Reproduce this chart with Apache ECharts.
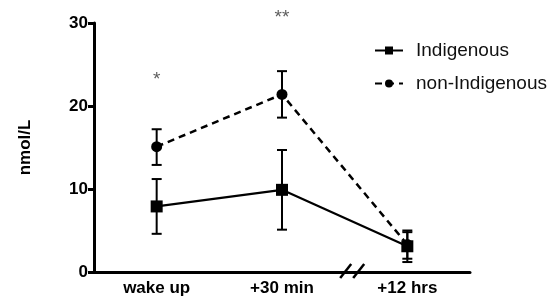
<!DOCTYPE html>
<html lang="en">
<head>
    <meta charset="UTF-8">
    <title>cortisol chart</title>
    <script src="https://cdn.jsdelivr.net/npm/echarts@6/dist/echarts.min.js"></script>
</head>
<body style="margin:0">
<div id="main" style="width: 556px;height:303px;"></div>
<script>
    const categories = ['wake up', '+30 min', '+12 hrs'];
    const indigMean = [7.9, 9.9, 3.1];
    const indigLow = [4.6, 5.1, 1.2];
    const indigHigh = [11.2, 14.7, 5.0];
    const nonMean = [15.1, 21.4, 3.3];
    const nonLow = [12.9, 18.6, 1.6];
    const nonHigh = [17.2, 24.2, 4.8];
    // significance marks: [category index, y value, text]
    const stars = [[0, 23.2, '*'], [1, 30.6, '**']];

    const font = 'Liberation Sans';
    const myChart = echarts.init(document.getElementById('main'));

    function errBars(low, high) {
        return categories.map(function (c, i) {
            return [i, low[i], high[i]];
        });
    }

    function renderErr(params, api) {
        const lo = api.coord([api.value(0), api.value(1)]);
        const hi = api.coord([api.value(0), api.value(2)]);
        const w = 5;
        const st = {stroke: '#000', lineWidth: 2};
        return {
            type: 'group',
            children: [
                {type: 'line', shape: {x1: lo[0], y1: lo[1], x2: hi[0], y2: hi[1]}, style: st},
                {type: 'line', shape: {x1: lo[0] - w, y1: lo[1], x2: lo[0] + w, y2: lo[1]}, style: st},
                {type: 'line', shape: {x1: hi[0] - w, y1: hi[1], x2: hi[0] + w, y2: hi[1]}, style: st}
            ]
        };
    }

    const option = {
        animation: false,
        grid: {left: 94, right: 86, top: 23, bottom: 31},
        legend: {
            orient: 'vertical',
            left: 369,
            top: 36,
            itemGap: 14,
            itemWidth: 28,
            itemHeight: 10,
            textStyle: {fontFamily: font, fontSize: 19, color: '#111', padding: [0, 0, 0, 8]},
            data: ['Indigenous', 'non-Indigenous']
        },
        xAxis: {
            type: 'category',
            data: categories,
            axisLine: {lineStyle: {color: '#000', width: 3}},
            axisTick: {alignWithLabel: true, length: 6, lineStyle: {width: 3, color: '#000'}},
            axisLabel: {fontFamily: font, fontWeight: 'bold', fontSize: 17, color: '#000', margin: 8}
        },
        yAxis: {
            type: 'value',
            min: 0,
            max: 30,
            interval: 10,
            name: 'nmol/L',
            nameLocation: 'middle',
            nameGap: 60,
            nameTextStyle: {fontFamily: font, fontWeight: 'bold', fontSize: 17, color: '#000'},
            splitLine: {show: false},
            axisLine: {show: true, lineStyle: {color: '#000', width: 3}},
            axisTick: {show: true, length: 6, lineStyle: {width: 3, color: '#000'}},
            axisLabel: {fontFamily: font, fontWeight: 'bold', fontSize: 17, color: '#000', margin: 6}
        },
        series: [{
            name: 'Indigenous',
            type: 'line',
            data: indigMean,
            symbol: 'rect',
            symbolSize: 12,
            itemStyle: {color: '#000'},
            lineStyle: {color: '#000', width: 2.2}
        }, {
            name: 'non-Indigenous',
            type: 'line',
            data: nonMean,
            symbol: 'circle',
            symbolSize: 11,
            itemStyle: {color: '#000'},
            lineStyle: {color: '#000', width: 2.5, type: [7, 5]}
        }, {
            type: 'custom',
            renderItem: renderErr,
            data: errBars(indigLow, indigHigh),
            z: 1
        }, {
            type: 'custom',
            renderItem: renderErr,
            data: errBars(nonLow, nonHigh),
            z: 1
        }, {
            type: 'scatter',
            symbolSize: 0,
            clip: false,
            data: stars.map(function (s) { return {value: [s[0], s[1]], name: s[2]}; }),
            label: {
                show: true,
                position: 'inside',
                formatter: '{b}',
                fontFamily: font,
                fontSize: 19,
                color: '#333'
            },
            silent: true
        }]
    };
    myChart.setOption(option);

    // axis break mark between +30 min and +12 hrs
    const a = myChart.convertToPixel({gridIndex: 0}, [1, 0]);
    const b = myChart.convertToPixel({gridIndex: 0}, [2, 0]);
    const bx = a[0] + (b[0] - a[0]) * 0.56;
    const by = a[1];
    const sl = {stroke: '#000', lineWidth: 2.5};
    myChart.setOption({
        graphic: [
            {type: 'line', shape: {x1: bx - 12, y1: by + 6, x2: bx - 1, y2: by - 8}, style: sl},
            {type: 'line', shape: {x1: bx + 1, y1: by + 6, x2: bx + 12, y2: by - 8}, style: sl}
        ]
    });
</script>
</body>
</html>
